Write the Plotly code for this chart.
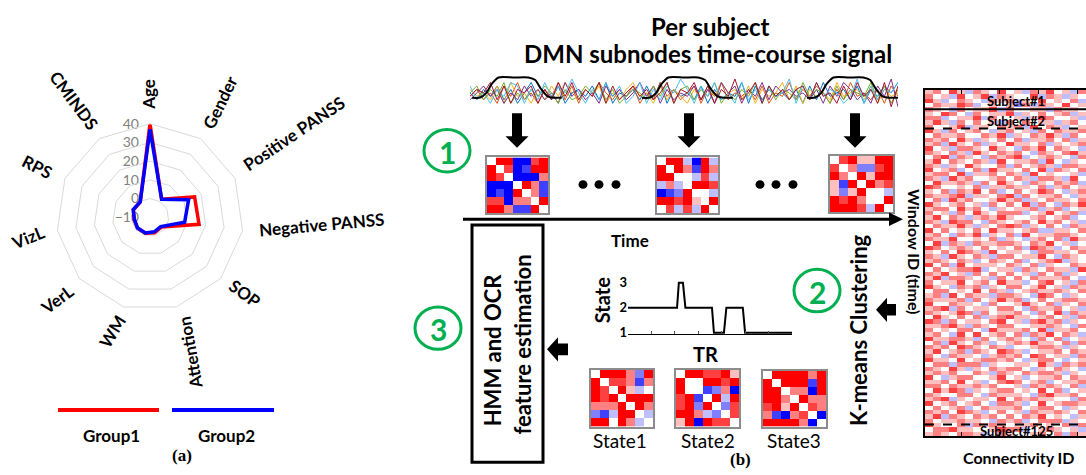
import plotly.graph_objects as go

W, H = 1086, 475
FONT = "Lato"
SERIF = "Liberation Serif"

# ---------------- panel (a): radar data ----------------
categories = ["Age", "Gender", "Positive PANSS", "Negative PANSS", "SOP", "Attention",
              "WM", "VerL", "VizL", "RPS", "CMINDS"]
group1 = [40, 1.5, 16.2, 16.5, -2.0, -1.4, -1.1, -1.2, -1.4, -0.3, -0.3]
group2 = [37, 1.5, 12.7, 8.7, -2.4, -1.9, -1.3, -1.2, -1.6, -0.1, -0.3]
radial_tickvals = [-10, 0, 10, 20, 30, 40]
label_angles = [-90, -64, -34, -5, 36, -100, -58, -37, -22, 27, 53]

# ---------------- panel (b): time-course signals (digit coded levels) ----------------
signal_series = [
    "5364736258463725647382546373826453726354827364536273845637264758",
    "4635274835264837264853647253846357264835463725483647526384536274",
    "6453728452637485364725368452736426374856372645837264538456372645",
    "3574625374635284635274635847263547362857264837564536274863527491",
    "5736482536475263475836246537482673648253648273653846527365483726",
    "7352648726384759526384724826375962748352836274592738465249273658",
    "4658372657263848364827357463582658372649358274636738452738462817",
]
signal_colors = ["#0072BD", "#D95319", "#EDB120", "#7E2F8E", "#77AC30", "#4DBEEE", "#A2142F"]
window1_t = [0.3, 1.5, 2.4, 3.2, 4.2, 6.5, 8.6, 9.6, 10.5, 11.5, 12.5, 13.5]
window2_t = [25.3, 26.5, 27.4, 28.2, 29.2, 31.5, 33.6, 34.6, 35.5, 36.5, 37.6, 38.7]
window3_t = [49.6, 50.8, 51.7, 52.5, 53.5, 55.8, 57.9, 58.9, 59.8, 60.8, 61.9, 63.0]
window_level = [3.61, 3.66, 5.0, 7.6, 9.44, 9.44, 9.44, 8.7, 6.0, 3.9, 3.61, 3.61]

# ---------------- state sequence ----------------
state_tr = [0, 29.9, 31.0, 33.5, 35.0, 51.2, 52.4, 58.5, 60.0, 70.0, 71.4, 100]
state_val = [2, 2, 3, 3, 2, 2, 1, 1, 2, 2, 1, 1]
state_ticks = [1, 2, 3]

# ---------------- connectivity matrices (0=blue, 4=white, 8=red) ----------------
mat_win1 = ["4880078", "8470188", "8740006", "0004861", "0108461", "7706648", "8861184"]
mat_win2 = ["4883083", "8486186", "8844373", "3634887", "0128443", "8878548", "4737384"]
mat_win3 = ["4785588", "7462278", "8648588", "5184867", "5258443", "8786448", "8887384"]
mat_state1 = ["4888628", "8477616", "8748534", "8784888", "6668486", "2138843", "8848634"]
mat_state2 = ["4887785", "8448878", "8441260", "7814838", "7828427", "8863247", "5808774"]
mat_state3 = ["4888868", "8488818", "8846608", "8864866", "7858476", "6106740", "8888604"]
state_names = ["State1", "State2", "State3"]

# ---------------- stacked windowed connectivity (rows = windows) ----------------
big_conn = [
    "56475365474536574536", "64537457365447365354", "75346543656354745463", "46557634545263654745",
    "65436455736445536554", "54764364557354645635", "66345573644535764453", "57536464536464553564",
    "64457355465637465345", "75364564356453646556", "46556446573546575364", "65647535464635564635",
    "56375463547554635456", "74536654754365746543", "65465375465643654675", "46736543656734565436",
    "57465465374556374354", "65354754463645653665", "74563463755464736546", "56647355646537454453",
    "65375644564653665374", "47556536475436546563", "76445463556554635645", "54636574634645764356",
    "65567355467364556435", "46375644575635465546", "75456453646473643657", "56647564354556356345",
    "64536475466634574563", "57465356575445645634", "65376643654564756453", "46557535467635464365",
    "74645464755456335546", "56436573546374556654", "65574454635435646375", "47365365566546574534",
    "76456546454637653465", "54647653745543665546", "65375465366455743654", "56546534654634567354",
    "74637455546546354465", "46456673455365465537", "65745364646453646354", "57366545364646555643",
    "64557456475534674536", "75436563546645745365", "46645474653456556546", "56374655366543764354",
    "65556364575634645665", "74465543644575463546", "56736455466436556453", "65457636455643647365",
    "47546463567554564536", "76364554674536756354", "55675365466445565436", "64546643755564735564",
    "56437474564636574653", "75566536456543646345", "46375465345657554636", "65647654653445665354",
    "57456365476534556465", "64365543565647645536", "75547456656435664345", "46636663544554753656",
    "65475354656643546543", "56564465365465665354", "74356644574534556465", "55647453467645634556",
    "66465565644536565463", "47576354566454746345", "65446643655543675564", "56735455474656554436",
    "74564564366534745665", "46456346555645664354", "65647653464536556546", "57365465646465745435",
    "64556554365634666354", "75446365654556454636", "46675544576634565453", "56546653465445646365",
]
subject_labels = ["Subject#1", "Subject#2", "Subject#125"]


def decode(rows):
    return [[int(c) for c in r] for r in rows]


def dom_x(a, b):
    return [a / W, b / W]


def dom_y(top, bottom):
    return [1 - bottom / H, 1 - top / H]


rb = [[0, "#0000FF"], [0.5, "#FFFFFF"], [1, "#FF0000"]]

fig = go.Figure()

# ---- radar
theta_closed = categories + [categories[0]]
fig.add_trace(go.Scatterpolar(r=group1 + [group1[0]], theta=theta_closed, mode="lines",
                              line=dict(color="#FF0000", width=3.5), name="Group1", hoverinfo="skip"))
fig.add_trace(go.Scatterpolar(r=group2 + [group2[0]], theta=theta_closed, mode="lines",
                              line=dict(color="#0000FF", width=3.5), name="Group2", hoverinfo="skip"))
# radial tick labels axis (same scale as the radar radius)
fig.add_trace(go.Scatter(x=[None], y=[None], xaxis="x11", yaxis="y11", hoverinfo="skip"))

# ---- signals
for s, c in zip(signal_series, signal_colors):
    fig.add_trace(go.Scatter(x=list(range(len(s))), y=[int(ch) for ch in s], mode="lines",
                             line=dict(color=c, width=1), xaxis="x", yaxis="y", hoverinfo="skip"))
win_t = window1_t + [None] + window2_t + [None] + window3_t
win_y = window_level + [None] + window_level + [None] + window_level
fig.add_trace(go.Scatter(x=win_t, y=win_y, mode="lines",
                         line=dict(color="black", width=2, shape="spline", smoothing=0.7),
                         xaxis="x", yaxis="y", hoverinfo="skip", connectgaps=False))

# ---- window matrices
for i, m in enumerate([mat_win1, mat_win2, mat_win3]):
    fig.add_trace(go.Heatmap(z=decode(m), colorscale=rb, zmin=0, zmax=8, showscale=False,
                             xaxis=f"x{i+2}", yaxis=f"y{i+2}", hoverinfo="skip"))

# ---- state plot
fig.add_trace(go.Scatter(x=state_tr, y=state_val, mode="lines", line=dict(color="black", width=2),
                         xaxis="x5", yaxis="y5", hoverinfo="skip"))

# ---- state matrices
for i, m in enumerate([mat_state1, mat_state2, mat_state3]):
    fig.add_trace(go.Heatmap(z=decode(m), colorscale=rb, zmin=0, zmax=8, showscale=False,
                             xaxis=f"x{i+6}", yaxis=f"y{i+6}", hoverinfo="skip"))

# ---- big heatmap
fig.add_trace(go.Heatmap(z=decode(big_conn), colorscale=rb, zmin=0, zmax=8, showscale=False,
                         xaxis="x9", yaxis="y9", hoverinfo="skip"))

# overlay canvas axis (pixel coordinates) for schematic shapes/text
fig.add_trace(go.Scatter(x=[None], y=[None], xaxis="x10", yaxis="y10", showlegend=False, hoverinfo="skip"))

hidden = dict(visible=False, showgrid=False, zeroline=False, fixedrange=True)
layout = dict(
    width=W, height=H, autosize=False, margin=dict(l=0, r=0, t=0, b=0),
    paper_bgcolor="white", plot_bgcolor="rgba(0,0,0,0)", showlegend=False,
    font=dict(family=FONT, color="black"),
    polar=dict(
        domain=dict(x=dom_x(53, 247), y=dom_y(119, 313)),
        bgcolor="rgba(0,0,0,0)", gridshape="linear",
        radialaxis=dict(range=[-10, 40], tickvals=radial_tickvals, angle=90, showticklabels=False,
                        showline=False, gridcolor="#d9d9d9", gridwidth=1, ticks=""),
        angularaxis=dict(direction="clockwise", rotation=90, showticklabels=False, showgrid=False,
                         linecolor="#d9d9d9", linewidth=1, ticks=""),
    ),
    xaxis=dict(domain=dom_x(470, 898), range=[0, 63], anchor="y", **hidden),
    yaxis=dict(domain=dom_y(55, 117), range=[-3.33, 13.89], anchor="x", **hidden),
    xaxis11=dict(domain=dom_x(53, 247), range=[0, 1], anchor="y11", **hidden),
    yaxis11=dict(domain=dom_y(119, 216), range=[-10, 40], anchor="free", position=139 / W, side="left",
                 tickvals=radial_tickvals, showline=False, showgrid=False, zeroline=False, ticks="",
                 tickfont=dict(size=14, color="#808080", family=FONT), fixedrange=True),
)

mat_boxes = [(487, 548, 154, 212), (657, 718, 154, 212), (830, 893, 152, 211),
             (591, 653, 374, 433), (676, 739, 374, 433), (763, 826, 375, 433)]
axis_ids = [2, 3, 4, 6, 7, 8]
for k, (x0, x1, y0, y1) in zip(axis_ids, mat_boxes):
    layout[f"xaxis{k}"] = dict(domain=dom_x(x0, x1), range=[-0.5, 6.5], anchor=f"y{k}", showline=True,
                               mirror=True, linecolor="#8c8c8c", linewidth=1.5, showticklabels=False,
                               ticks="", showgrid=False, zeroline=False, fixedrange=True)
    layout[f"yaxis{k}"] = dict(domain=dom_y(y0, y1), range=[6.5, -0.5], anchor=f"x{k}", showline=True,
                               mirror=True, linecolor="#8c8c8c", linewidth=1.5, showticklabels=False,
                               ticks="", showgrid=False, zeroline=False, fixedrange=True)

layout["xaxis5"] = dict(domain=dom_x(628, 792), range=[0, 100], anchor="y5", showline=True, linecolor="black",
                        linewidth=1, ticks="inside", ticklen=3, tickcolor="#555",
                        tickvals=[14.3, 28.6, 42.9, 57.2, 71.5, 85.8], showticklabels=False,
                        showgrid=False, zeroline=False, fixedrange=True)
layout["yaxis5"] = dict(domain=dom_y(262, 337), range=[0.95, 3.85], anchor="x5", showline=False,
                        tickvals=state_ticks, ticktext=[f"<b>{v}</b>" for v in state_ticks], ticks="",
                        tickfont=dict(size=13, family=FONT), showgrid=False, zeroline=False, fixedrange=True)

nrows = len(big_conn)
layout["xaxis9"] = dict(domain=dom_x(925, 1086), range=[-0.5, 19.5], anchor="y9", showline=True, mirror="ticks",
                        linecolor="black", linewidth=2, ticks="inside", ticklen=4, tickcolor="black",
                        tickvals=[4, 8.8, 13.6, 18.4], showticklabels=False, showgrid=False,
                        zeroline=False, fixedrange=True)
layout["yaxis9"] = dict(domain=dom_y(84, 443), range=[nrows - 0.5, -0.5], anchor="x9", showline=True,
                        linecolor="black", linewidth=2, showticklabels=False, ticks="",
                        showgrid=False, zeroline=False, fixedrange=True)

layout["xaxis10"] = dict(domain=[0, 1], range=[0, W], anchor="y10", **hidden)
layout["yaxis10"] = dict(domain=[0, 1], range=[H, 0], anchor="x10", **hidden)
fig.update_layout(**layout)


# ---------------- schematic text ----------------
def txt(x, y, s, size, angle=0, color="black", family=FONT, bold=True):
    fig.add_annotation(x=x, y=y, xref="x10", yref="y10", text=f"<b>{s}</b>" if bold else s,
                       showarrow=False, textangle=angle, xanchor="center", yanchor="middle",
                       font=dict(size=size, color=color, family=family))


def shape(**kw):
    kw.setdefault("xref", "x10")
    kw.setdefault("yref", "y10")
    kw.setdefault("layer", "above")
    fig.add_shape(**kw)


# radar category labels
label_pos = [(149, 89), (220, 97), (294, 129), (321, 224), (245, 295), (190, 357),
             (112, 334), (57, 301), (28, 237), (37, 163), (74, 95)]
for name, (x, y), a in zip(categories, label_pos, label_angles):
    txt(x, y, name, 17, angle=a)

# legend (a)
shape(type="line", x0=58, x1=159, y0=416, y1=416, line=dict(color="#FF0000", width=4))
shape(type="line", x0=172, x1=274, y0=416, y1=416, line=dict(color="#0000FF", width=4))
txt(111, 442, "Group1", 17)
txt(226, 442, "Group2", 17)
txt(182, 463, "(a)", 17, family=SERIF)

# titles
txt(710, 18, "Per subject", 24)
txt(708, 46, "DMN subnodes time-course signal", 24)


def down_arrow(cx, y0, y1, sw=10, hw=23, hh=12):
    p = (f"M {cx-sw/2},{y0} L {cx+sw/2},{y0} L {cx+sw/2},{y1-hh} L {cx+hw/2},{y1-hh} L {cx},{y1} "
         f"L {cx-hw/2},{y1-hh} L {cx-sw/2},{y1-hh} Z")
    shape(type="path", path=p, fillcolor="black", line=dict(color="black", width=0))


def left_arrow(xtip, xend, cy, sh=12, hh=25, hl=11):
    p = (f"M {xtip},{cy} L {xtip+hl},{cy-hh/2} L {xtip+hl},{cy-sh/2} L {xend},{cy-sh/2} L {xend},{cy+sh/2} "
         f"L {xtip+hl},{cy+sh/2} L {xtip+hl},{cy+hh/2} Z")
    shape(type="path", path=p, fillcolor="black", line=dict(color="black", width=0))


for cx in [517, 689, 855]:
    down_arrow(cx, 108, 144)

# dots
for cx in [583, 599, 616, 760, 776, 793]:
    shape(type="circle", x0=cx - 4.5, x1=cx + 4.5, y0=182 - 4.5, y1=182 + 4.5, fillcolor="black",
          line=dict(color="black", width=0))

# time arrow
shape(type="line", x0=463, x1=893, y0=218, y1=218, line=dict(color="black", width=3))
shape(type="path", path="M 903,218 L 889,211 L 889,225 Z", fillcolor="black", line=dict(color="black", width=0))
txt(630, 240, "Time", 17)

# green step circles
for (cx, cy, n) in [(447, 147, "1"), (817, 292, "2"), (438, 331, "3")]:
    shape(type="circle", x0=cx - 23, x1=cx + 23, y0=cy - 22, y1=cy + 22, line=dict(color="#00B050", width=3))
    txt(cx, cy + 1, n, 30, color="#00B050")

# HMM box
shape(type="rect", x0=472, x1=543, y0=224, y1=470, line=dict(color="black", width=3))
txt(492, 354, "HMM and OCR", 22, angle=-90)
txt(523, 348, "feature estimation", 22, angle=-90)
left_arrow(547, 568, 353)
left_arrow(876, 896, 312)

# K-means + heatmap labels
txt(858, 333, "K-means Clustering", 22, angle=-90)
txt(914, 252, "Window ID (time)", 16, angle=90)
txt(1019, 465, "Connectivity ID", 16)
shape(type="line", x0=925, x1=1086, y0=104, y1=104, line=dict(color="black", width=2))
shape(type="line", x0=925, x1=1086, y0=124, y1=124, line=dict(color="black", width=2, dash="dash"))
shape(type="line", x0=925, x1=1086, y0=431, y1=431, line=dict(color="black", width=2, dash="dash"))
for s, y in zip(subject_labels, [95, 116, 438]):
    txt(1016, y, s, 13)

# state plot labels
txt(602, 302, "State", 20, angle=-90)
txt(705, 358, "TR", 20)
for s, x in zip(state_names, [620, 708, 794]):
    txt(x, 448, s, 19, bold=False)
txt(740, 467, "(b)", 17, family=SERIF)

fig.write_html("out.html", config={"displayModeBar": False},
               post_script="document.body.style.margin='0';document.body.style.overflow='hidden';")
